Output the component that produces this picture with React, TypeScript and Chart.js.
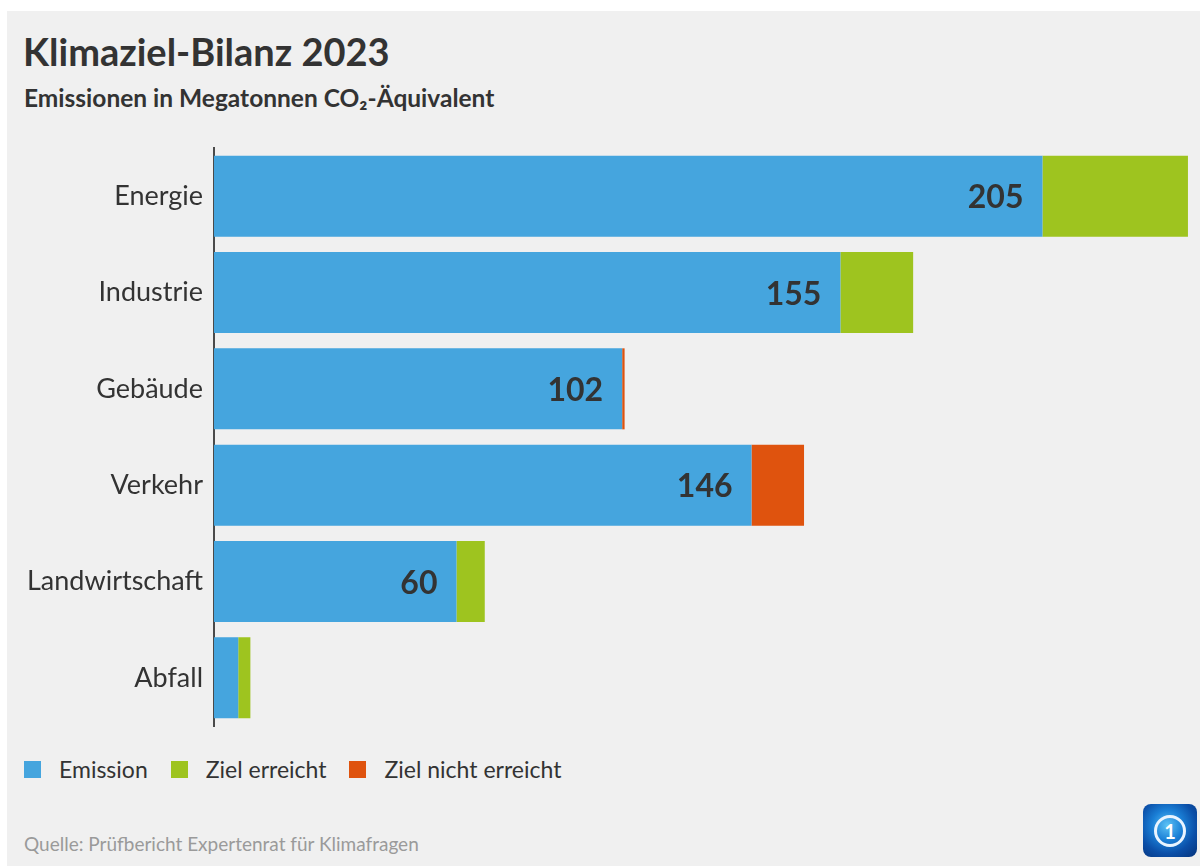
import React, { useEffect, useRef } from "react";
import { Chart, registerables } from "chart.js";

Chart.register(...registerables);

// ---- data ----
const categories = ["Energie", "Industrie", "Gebäude", "Verkehr", "Landwirtschaft", "Abfall"];
const emissionBar = [205, 155, 101, 133, 60, 6];
const zielErreicht = [36, 18, 0, 0, 7, 3];
const zielNichtErreicht = [0, 0, 0.6, 13, 0, 0];
const valueLabels = ["205", "155", "102", "146", "60", ""];
const seriesNames = ["Emission", "Ziel erreicht", "Ziel nicht erreicht"];
const seriesColors = ["#45a5de", "#9ec41f", "#df530e"];
const axisMax = 242;

const titleText = "Klimaziel-Bilanz 2023";
const subtitleText = "Emissionen in Megatonnen CO\u2082-Äquivalent";
const sourceText = "Quelle: Prüfbericht Expertenrat für Klimafragen";

const FONT = "Lato, 'Open Sans', 'Noto Sans', sans-serif";

const valueLabelPlugin = {
  id: "valueLabels",
  afterDatasetsDraw(chart: any) {
    const meta = chart.getDatasetMeta(0);
    const ctx = chart.ctx;
    ctx.save();
    ctx.font = `bold 32px ${FONT}`;
    ctx.fillStyle = "#333333";
    ctx.textAlign = "right";
    ctx.textBaseline = "alphabetic";
    meta.data.forEach((bar: any, i: number) => {
      const t = valueLabels[i];
      if (t) ctx.fillText(t, bar.x - 19, bar.y + 12);
    });
    ctx.restore();
  },
};

function ChartCanvas() {
  const ref = useRef<HTMLCanvasElement | null>(null);
  useEffect(() => {
    if (!ref.current) return;
    const series = [emissionBar, zielErreicht, zielNichtErreicht];
    const chart = new Chart(ref.current, {
      type: "bar",
      data: {
        labels: categories,
        datasets: series.map((d, i) => ({
          label: seriesNames[i],
          data: d,
          backgroundColor: seriesColors[i],
          borderWidth: 0,
          barPercentage: 0.841,
          categoryPercentage: 1,
        })),
      },
      options: {
        animation: false,
        responsive: false,
        indexAxis: "y",
        layout: { padding: { top: 7, bottom: 15, left: 0, right: 8 } },
        plugins: {
          legend: { display: false },
          tooltip: { enabled: false },
          title: { display: false },
        },
        scales: {
          x: { stacked: true, min: 0, max: axisMax, display: false },
          y: {
            stacked: true,
            grid: { display: false, drawTicks: false },
            border: { display: true, color: "#4a4a4a", width: 2 },
            ticks: {
              font: { family: FONT, size: 27 },
              color: "#333333",
              padding: 11,
            },
            afterFit: (s: any) => {
              s.width = 207;
              s.paddingTop = 0;
              s.paddingBottom = 0;
            },
          },
        },
      },
      plugins: [valueLabelPlugin],
    } as any);
    return () => chart.destroy();
  }, []);
  return <canvas ref={ref} width={1193} height={600} style={{ width: 1193, height: 600, display: "block" }} />;
}

export default function App() {
  return (
    <div style={{ position: "absolute", left: 0, top: 0, width: 1200, height: 866, background: "#ffffff", overflow: "hidden" }}>
      <div style={{ position: "absolute", left: 7, top: 11, width: 1193, height: 855, background: "#f0f0f0", fontFamily: FONT }}>
        <div style={{ position: "absolute", left: 16, top: 21, fontSize: 38, fontWeight: 700, lineHeight: 1, color: "#333333", whiteSpace: "nowrap" }}>
          {titleText}
        </div>
        <div style={{ position: "absolute", left: 17, top: 75, fontSize: 24.5, fontWeight: 700, lineHeight: 1, color: "#333333", whiteSpace: "nowrap" }}>
          {subtitleText}
        </div>
        <div style={{ position: "absolute", left: 0, top: 130 }}>
          <ChartCanvas />
        </div>
        <div style={{ position: "absolute", left: 17, top: 747, height: 22, display: "flex", alignItems: "center", fontSize: 23, lineHeight: 1, color: "#333333", whiteSpace: "nowrap" }}>
          {seriesNames.map((n, i) => (
            <div key={n} style={{ display: "flex", alignItems: "center", marginRight: 23 }}>
              <span style={{ display: "inline-block", width: 17, height: 17, background: seriesColors[i], marginRight: 18 }} />
              <span>{n}</span>
            </div>
          ))}
        </div>
        <div style={{ position: "absolute", left: 17, top: 823, fontSize: 19, lineHeight: 1, color: "#9a9a9a", whiteSpace: "nowrap" }}>
          {sourceText}
        </div>
        <div
          style={{
            position: "absolute",
            left: 1136,
            top: 793,
            width: 54,
            height: 53,
            borderRadius: 8,
            background: "radial-gradient(circle at 45% 40%, #5cc2f5 0%, #1a7fd6 35%, #0b4fa8 65%, #06337a 100%)",
            display: "flex",
            alignItems: "center",
            justifyContent: "center",
          }}
        >
          <div
            style={{
              width: 26,
              height: 26,
              borderRadius: "50%",
              border: "3px solid #e8f4ff",
              display: "flex",
              alignItems: "center",
              justifyContent: "center",
              color: "#ffffff",
              fontWeight: 700,
              fontSize: 20,
              lineHeight: 1,
            }}
          >
            1
          </div>
        </div>
      </div>
    </div>
  );
}
